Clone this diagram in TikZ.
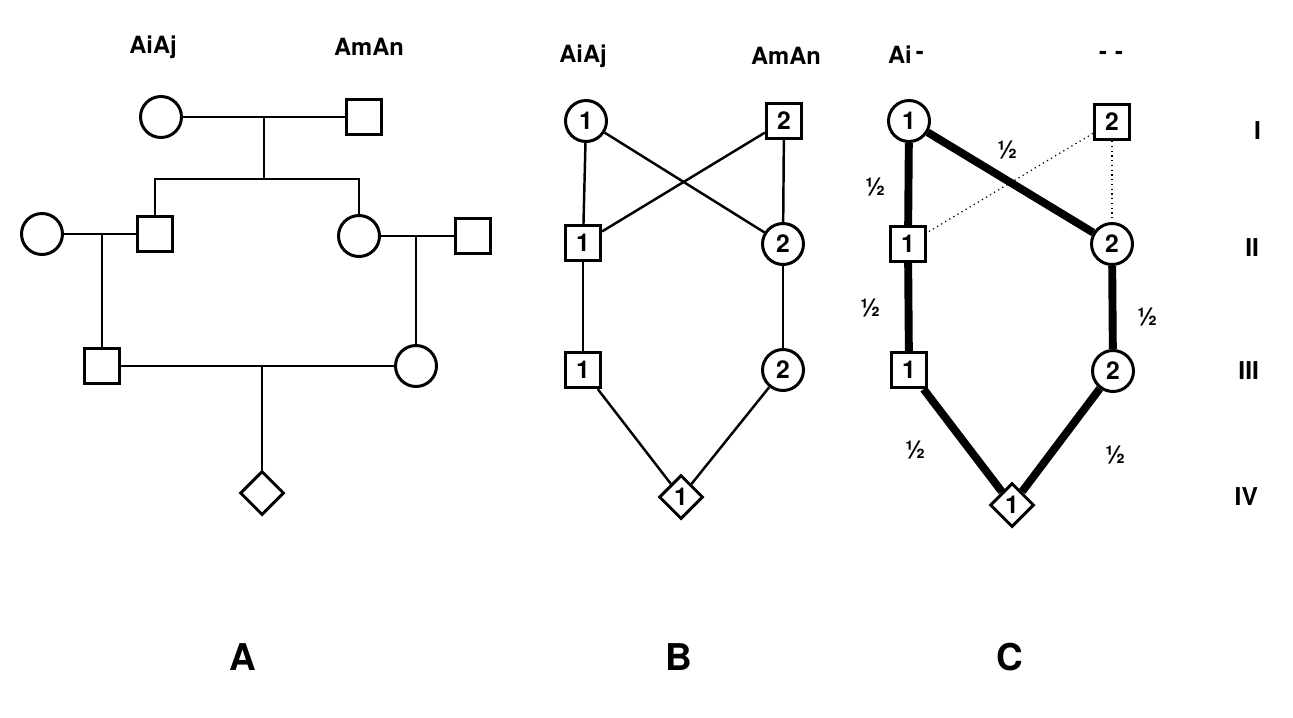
\documentclass[tikz,border=0pt]{standalone}
\usepackage{fontspec}
\setmainfont{TeX Gyre Heros}
\usepackage{tikz}
\usetikzlibrary{shapes,arrows,positioning,calc}

\begin{document}
\begin{tikzpicture}[x=0.02cm, y=-0.02cm, line width=1.4pt]
\tikzset{
female/.style = {draw, shape=circle, fill=white, line width=1.7pt, minimum size=0.82cm, inner sep=0pt, font=\fontsize{14}{14}\selectfont\bfseries},
male/.style   = {draw, shape=rectangle, fill=white, line width=1.9pt, minimum size=0.7cm, inner sep=0pt, font=\fontsize{14}{14}\selectfont\bfseries},
child/.style  = {draw, shape=diamond, fill=white, line width=1.7pt, minimum size=0.88cm, inner sep=0pt, font=\fontsize{14}{14}\selectfont\bfseries},
head/.style   = {font=\fontsize{13.5}{13.5}\selectfont\bfseries},
half/.style   = {font=\fontsize{14}{14}\selectfont\bfseries},
gen/.style    = {anchor=east, font=\fontsize{14}{14}\selectfont\bfseries},
panel/.style  = {font=\fontsize{21}{21}\selectfont\bfseries},
ibd/.style    = {line width=4.5pt},
nonibd/.style = {dotted, line width=0.7pt},
}
    \useasboundingbox (0,0) rectangle (1293,717);

    % Pedigree A
    \node [female] (A-I-f)   at (161,117) {};
    \node [male]   (A-I-m)   at (364,117) {};
    \node [female] (A-II-w)  at (42,234)  {};
    \node [male]   (A-II-s)  at (155,234) {};
    \node [female] (A-II-d)  at (359,236) {};
    \node [male]   (A-II-h)  at (473,236) {};
    \node [male]   (A-III-s) at (102,366) {};
    \node [female] (A-III-d) at (416,366) {};
    \node [child]  (A-IV)    at (262,493) {};

    \coordinate (A-mar1) at (264,117);
    \coordinate (A-sib1) at (264,179);
    \coordinate (A-mar2) at (102,234);
    \coordinate (A-mar3) at (416,236);
    \coordinate (A-mar4) at (262,366);

    \draw (A-I-f)   -- (A-I-m);
    \draw (A-mar1)  -- (A-sib1);
    \draw (A-II-s)  |- (A-sib1) -| (A-II-d);
    \draw (A-II-w)  -- (A-II-s);
    \draw (A-II-d)  -- (A-II-h);
    \draw (A-mar2)  -- (A-III-s);
    \draw (A-mar3)  -- (A-III-d);
    \draw (A-III-s) -- (A-III-d);
    \draw (A-mar4)  -- (A-IV);

    \node [head] (A-h1) at (153,47) {AiAj};
    \node [head] (A-h2) at (369,47) {AmAn};

    % Pedigree B
    \node [female] (B-I-1)   at (586,121) {1};
    \node [male]   (B-I-2)   at (784,121) {2};
    \node [male]   (B-II-1)  at (583,243) {1};
    \node [female] (B-II-2)  at (783,244) {2};
    \node [male]   (B-III-1) at (583,370) {1};
    \node [female] (B-III-2) at (783,370) {2};
    \node [child]  (B-IV)    at (681,497) {1};

    \draw (B-I-1)   -- (B-II-1);
    \draw (B-I-1)   -- (B-II-2);
    \draw (B-I-2)   -- (B-II-1);
    \draw (B-I-2)   -- (B-II-2);
    \draw (B-II-1)  -- (B-III-1);
    \draw (B-II-2)  -- (B-III-2);
    \draw (B-III-1) -- (B-IV);
    \draw (B-III-2) -- (B-IV);

    \node [head] (B-h1) at (583,56) {AiAj};
    \node [head] (B-h2) at (786,56) {AmAn};

    % Pedigree C
    \node [female] (C-I-1)   at (909,121)  {1};
    \node [male]   (C-I-2)   at (1112,122) {2};
    \node [male]   (C-II-1)  at (908,244)  {1};
    \node [female] (C-II-2)  at (1112,244) {2};
    \node [male]   (C-III-1) at (909,370)  {1};
    \node [female] (C-III-2) at (1113,371) {2};
    \node [child]  (C-IV)    at (1012,505) {1};

    \draw [ibd]    (C-I-1)   -- (C-II-1);
    \draw [ibd]    (C-I-1)   -- (C-II-2);
    \draw [nonibd] (C-I-2)   -- (C-II-1);
    \draw [nonibd] (C-I-2)   -- (C-II-2);
    \draw [ibd]    (C-II-1)  -- (C-III-1);
    \draw [ibd]    (C-II-2)  -- (C-III-2);
    \draw [ibd]    (C-III-1) -- (C-IV);
    \draw [ibd]    (C-III-2) -- (C-IV);

    \node [half] (C-p1) at (1007,150) {½};
    \node [half] (C-p2) at (875,187)  {½};
    \node [half] (C-p3) at (870,308)  {½};
    \node [half] (C-p4) at (1147,317) {½};
    \node [half] (C-p5) at (915,450)  {½};
    \node [half] (C-p6) at (1115,455) {½};

    \node [head, anchor=west] (C-h1) at (881,55) {Ai\,\raisebox{0.35ex}{-}};
    \node [head] (C-h2) at (1111,55) {-\hspace{0.16cm}-};

    % Generations
    \node [gen] (gen1) at (1268,131) {I};
    \node [gen] (gen2) at (1266,248) {II};
    \node [gen] (gen3) at (1266,371) {III};
    \node [gen] (gen4) at (1265,497) {IV};

    % Panel letters
    \node [panel] (lab-A) at (243,657) {A};
    \node [panel] (lab-B) at (679,657) {B};
    \node [panel] (lab-C) at (1010,657) {C};

\end{tikzpicture}
\end{document}
